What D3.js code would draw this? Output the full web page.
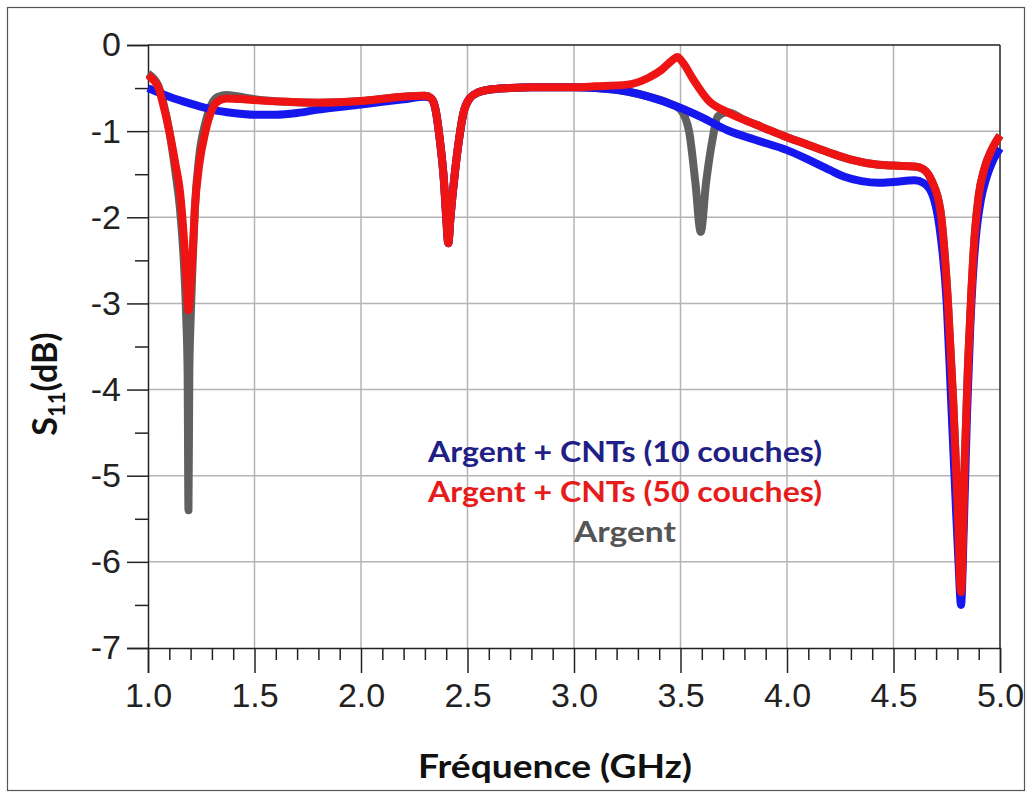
<!DOCTYPE html>
<html><head><meta charset="utf-8">
<script src="https://cdn.jsdelivr.net/npm/d3@7"></script>
<style>body{margin:0;background:#fff}</style>
</head><body>
<svg id="c" width="1031" height="798"></svg>
<script>
// ---- data ----
const xTicks = [1.0, 1.5, 2.0, 2.5, 3.0, 3.5, 4.0, 4.5, 5.0];
const yTicks = [0, -1, -2, -3, -4, -5, -6, -7];
const legendLabels = ["Argent + CNTs (10 couches)", "Argent + CNTs (50 couches)", "Argent"];

const freqBlue = [1.0,1.1,1.2,1.3,1.4,1.5,1.6,1.7,1.8,1.9,2.0,2.1,2.2,2.3,2.33,2.35,2.37,2.39,2.40,2.41,2.42,2.44,2.46,2.48,2.51,2.55,2.6,2.7,2.8,2.9,3.0,3.1,3.25,3.35,3.49,3.6,3.72,3.85,4.0,4.1,4.2,4.27,4.35,4.43,4.5,4.6,4.64,4.68,4.72,4.75,4.77,4.79,4.805,4.817,4.83,4.845,4.86,4.875,4.89,4.91,4.935,4.96,5.0];
const s11Blue  = [-0.5,-0.6,-0.68,-0.75,-0.79,-0.81,-0.81,-0.79,-0.75,-0.72,-0.69,-0.66,-0.63,-0.6,-0.62,-0.75,-1.1,-1.6,-2.0,-2.3,-2.0,-1.5,-1.1,-0.8,-0.62,-0.55,-0.52,-0.5,-0.49,-0.49,-0.49,-0.5,-0.54,-0.6,-0.72,-0.84,-0.99,-1.1,-1.22,-1.33,-1.45,-1.53,-1.58,-1.6,-1.59,-1.57,-1.6,-1.72,-2.19,-3.0,-4.1,-5.2,-6.0,-6.5,-5.6,-4.3,-3.3,-2.6,-2.15,-1.8,-1.55,-1.38,-1.2];

const freqRed = [1.0,1.03,1.05,1.07,1.10,1.13,1.15,1.17,1.18,1.19,1.20,1.21,1.22,1.24,1.27,1.30,1.33,1.37,1.45,1.5,1.65,1.8,2.0,2.2,2.3,2.33,2.35,2.37,2.39,2.40,2.41,2.42,2.44,2.46,2.48,2.51,2.55,2.6,2.7,2.8,2.9,3.0,3.1,3.25,3.35,3.41,3.46,3.485,3.51,3.56,3.63,3.72,3.8,3.88,4.0,4.1,4.2,4.3,4.43,4.5,4.6,4.64,4.68,4.72,4.755,4.78,4.80,4.817,4.835,4.85,4.865,4.88,4.9,4.925,4.96,5.0];
const s11Red  = [-0.35,-0.42,-0.5,-0.68,-1.0,-1.4,-1.7,-2.3,-2.7,-3.08,-2.8,-2.4,-1.9,-1.4,-1.0,-0.75,-0.65,-0.62,-0.63,-0.64,-0.66,-0.67,-0.65,-0.6,-0.59,-0.62,-0.75,-1.1,-1.6,-2.0,-2.3,-2.0,-1.5,-1.1,-0.8,-0.62,-0.55,-0.52,-0.5,-0.49,-0.49,-0.49,-0.48,-0.46,-0.38,-0.29,-0.18,-0.14,-0.2,-0.4,-0.64,-0.78,-0.87,-0.95,-1.07,-1.16,-1.25,-1.33,-1.39,-1.4,-1.41,-1.44,-1.58,-1.92,-2.96,-4.12,-5.28,-6.35,-4.8,-3.7,-2.9,-2.25,-1.75,-1.45,-1.22,-1.05];

const freqGrey = [1.0,1.03,1.05,1.07,1.10,1.13,1.15,1.17,1.18,1.186,1.19,1.194,1.20,1.21,1.22,1.24,1.27,1.30,1.33,1.37,1.45,1.5,1.65,1.8,2.0,2.2,2.3,2.33,2.35,2.37,2.39,2.40,2.41,2.42,2.44,2.46,2.48,2.51,2.55,2.6,2.7,2.8,2.9,3.0,3.1,3.25,3.35,3.45,3.5,3.54,3.57,3.595,3.62,3.65,3.675,3.72,3.8,3.88,4.0,4.1,4.2,4.3,4.43,4.5,4.6,4.64,4.68,4.72,4.755,4.78,4.80,4.817,4.835,4.85,4.865,4.88,4.9,4.925,4.96,5.0];
const s11Grey  = [-0.33,-0.4,-0.48,-0.65,-1.0,-1.5,-1.9,-2.6,-3.2,-3.8,-5.4,-3.8,-3.2,-2.5,-1.9,-1.3,-0.9,-0.68,-0.6,-0.58,-0.61,-0.63,-0.66,-0.67,-0.65,-0.6,-0.59,-0.62,-0.75,-1.1,-1.6,-2.0,-2.3,-2.0,-1.5,-1.1,-0.8,-0.62,-0.55,-0.52,-0.5,-0.49,-0.49,-0.49,-0.5,-0.54,-0.6,-0.68,-0.75,-1.0,-1.6,-2.17,-1.6,-1.1,-0.83,-0.78,-0.87,-0.95,-1.07,-1.16,-1.25,-1.33,-1.39,-1.4,-1.41,-1.44,-1.58,-1.92,-2.96,-4.12,-5.28,-6.3,-4.8,-3.7,-2.9,-2.25,-1.75,-1.45,-1.22,-1.05];

// ---- layout ----
const svg = d3.select("#c");
const L = 148, R = 1000, T = 45, B = 648;
const x = d3.scaleLinear().domain([1, 5]).range([L, R]);
const y = d3.scaleLinear().domain([0, -7]).range([T, B]);

svg.append("rect").attr("x", 7.5).attr("y", 7.5).attr("width", 1017).attr("height", 783)
  .attr("fill", "#fff").attr("stroke", "#555").attr("stroke-width", 1.2);

// grid
const g = svg.append("g");
g.selectAll(".gx").data(xTicks.slice(1, -1)).join("line")
  .attr("x1", d => x(d)).attr("x2", d => x(d)).attr("y1", T).attr("y2", B)
  .attr("stroke", "#b4b4b4").attr("stroke-width", 1.5);
g.selectAll(".gy").data(yTicks.slice(1, -1)).join("line")
  .attr("x1", L).attr("x2", R).attr("y1", d => y(d)).attr("y2", d => y(d))
  .attr("stroke", "#b4b4b4").attr("stroke-width", 1.5);

// frame top/right
svg.append("line").attr("x1", L).attr("x2", R).attr("y1", T).attr("y2", T).attr("stroke", "#222").attr("stroke-width", 1.5);
svg.append("line").attr("x1", R).attr("x2", R).attr("y1", T).attr("y2", B).attr("stroke", "#222").attr("stroke-width", 1.5);

// x axis
const xAxis = d3.axisBottom(x).tickValues(xTicks).tickFormat(d3.format(".1f")).tickSize(25).tickPadding(10);
const gx = svg.append("g").attr("transform", `translate(0,${B})`).call(xAxis);
gx.select(".domain").attr("stroke", "#222").attr("stroke-width", 1.5);
gx.selectAll(".tick line").attr("stroke", "#222").attr("stroke-width", 1.5);
gx.selectAll("text").attr("font-family", "Liberation Sans, Arial").attr("font-size", 34).attr("fill", "#222");
const xMinor = d3.range(10, 50).map(v => v / 10).filter(v => Math.abs(v * 2 - Math.round(v * 2)) > 1e-6);
svg.append("g").attr("transform", `translate(0,${B})`)
  .call(d3.axisBottom(x).tickValues(xMinor).tickSize(12).tickFormat(""))
  .call(s => { s.select(".domain").remove(); s.selectAll("line").attr("stroke", "#222").attr("stroke-width", 1.5); });

// y axis
const yAxis = d3.axisLeft(y).tickValues(yTicks).tickFormat(d => d === 0 ? "0" : "-" + Math.abs(d)).tickSize(21).tickPadding(6);
const gy = svg.append("g").attr("transform", `translate(${L},0)`).call(yAxis);
gy.select(".domain").attr("stroke", "#222").attr("stroke-width", 1.5);
gy.selectAll(".tick line").attr("stroke", "#222").attr("stroke-width", 1.5);
gy.selectAll("text").attr("font-family", "Liberation Sans, Arial").attr("font-size", 34).attr("fill", "#222");
const yMinor = d3.range(0, 7).map(v => -v - 0.5);
svg.append("g").attr("transform", `translate(${L},0)`)
  .call(d3.axisLeft(y).tickValues(yMinor).tickSize(13).tickFormat(""))
  .call(s => { s.select(".domain").remove(); s.selectAll("line").attr("stroke", "#222").attr("stroke-width", 1.5); });

// series
const line = d3.line().x(d => x(d[0])).y(d => y(d[1])).curve(d3.curveMonotoneX);
const series = [
  { f: freqGrey, v: s11Grey, c: "#606060" },
  { f: freqBlue, v: s11Blue, c: "#1616ee" },
  { f: freqRed,  v: s11Red,  c: "#ee1414" }
];
series.forEach(s => {
  svg.append("path").datum(s.f.map((f, i) => [f, s.v[i]])).attr("d", line)
    .attr("fill", "none").attr("stroke", s.c).attr("stroke-width", 8)
    .attr("stroke-linejoin", "round").attr("stroke-linecap", "butt");
});

// legend text
const legColors = ["#1f1f86", "#e61c1c", "#555555"];
const legY = [462, 502, 542];
const legW = [394, 394, 102];
legendLabels.forEach((t, i) => {
  svg.append("text").attr("x", 625).attr("y", legY[i]).attr("text-anchor", "middle")
    .attr("font-family", "Lato, 'Open Sans', sans-serif").attr("font-weight", "bold")
    .attr("font-size", 28).attr("fill", legColors[i])
    .attr("textLength", legW[i]).attr("lengthAdjust", "spacingAndGlyphs").text(t);
});

// axis titles
svg.append("text").attr("x", 555).attr("y", 778).attr("text-anchor", "middle")
  .attr("font-family", "Lato, 'Open Sans', sans-serif").attr("font-weight", "bold")
  .attr("font-size", 32).attr("fill", "#111")
  .attr("textLength", 274).attr("lengthAdjust", "spacingAndGlyphs").text("Fréquence (GHz)");
const yt = svg.append("text").attr("transform", "translate(57,384) rotate(-90)").attr("text-anchor", "middle")
  .attr("font-family", "Lato, 'Open Sans', sans-serif").attr("font-weight", "bold")
  .attr("font-size", 34).attr("fill", "#111");
yt.append("tspan").text("S");
yt.append("tspan").attr("font-size", 22).attr("dy", 8).text("11");
yt.append("tspan").attr("dy", -8).text("(dB)");
</script>
</body></html>
